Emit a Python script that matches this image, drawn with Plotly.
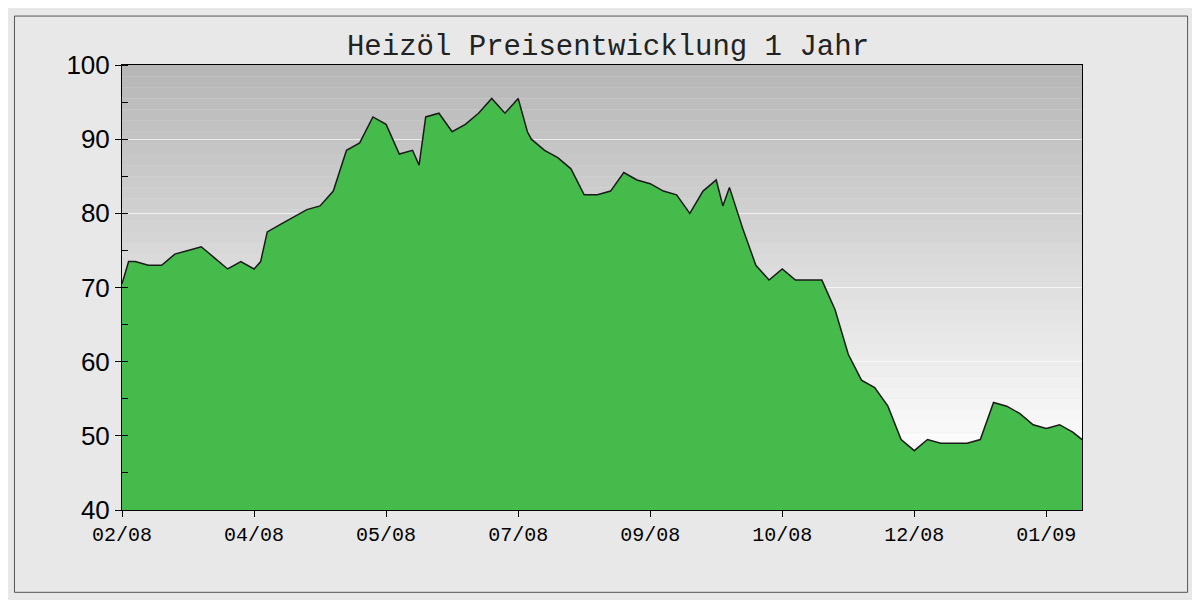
import plotly.graph_objects as go
import numpy as np

# x position in tick units (one unit = distance between two date labels)
pos = [0.0, 0.05, 0.1, 0.2, 0.3, 0.4, 0.5, 0.6, 0.7, 0.8, 0.9, 1.0, 1.05, 1.1, 1.2, 1.3, 1.4, 1.5,
       1.6, 1.7, 1.8, 1.9, 2.0, 2.1, 2.2, 2.25, 2.3, 2.4, 2.5, 2.6, 2.7, 2.8, 2.9, 3.0, 3.07,
       3.1, 3.2, 3.3, 3.4, 3.5, 3.6, 3.7, 3.8, 3.9, 4.0, 4.1, 4.2, 4.3, 4.4, 4.5, 4.55, 4.6,
       4.7, 4.8, 4.9, 5.0, 5.1, 5.2, 5.3, 5.4, 5.5, 5.6, 5.7, 5.8, 5.9, 6.0, 6.1, 6.2, 6.3,
       6.4, 6.5, 6.6, 6.7, 6.8, 6.9, 7.0, 7.1, 7.2, 7.27]
preis = [70.5, 73.5, 73.5, 73, 73, 74.5, 75, 75.5, 74, 72.5, 73.5, 72.5, 73.5, 77.5, 78.5, 79.5,
         80.5, 81, 83, 88.5, 89.5, 93, 92, 88, 88.5, 86.5, 93, 93.5, 91, 92, 93.5, 95.5, 93.5,
         95.5, 91, 90, 88.5, 87.5, 86, 82.5, 82.5, 83, 85.5, 84.5, 84, 83, 82.5, 80, 83, 84.5,
         81, 83.5, 78, 73, 71, 72.5, 71, 71, 71, 67, 61, 57.5, 56.5, 54, 49.5, 48, 49.5, 49,
         49, 49, 49.5, 54.5, 54, 53, 51.5, 51, 51.5, 50.5, 49.5]

tick_pos = [0, 1, 2, 3, 4, 5, 6, 7]
tick_text = ["02/08", "04/08", "05/08", "07/08", "09/08", "10/08", "12/08", "01/09"]

fig = go.Figure()

# grauer Verlauf im Hintergrund
shapes = []
n = 40
for i in range(n):
    y0 = 40 + 60 * i / n
    y1 = 40 + 60 * (i + 1) / n
    t = (y0 - 40) / 60
    if t < 0.15:
        g = 240 + int(t / 0.15 * 10)
    else:
        g = 250 - int((t - 0.15) / 0.85 * 70)
    shapes.append(dict(type="rect", xref="x", yref="y", x0=0, x1=7.27, y0=y0, y1=y1,
                       fillcolor=f"rgb({g},{g},{g})", line_width=0, layer="below"))
shapes.append(dict(type="rect", xref="paper", yref="paper", x0=-0.112, x1=1.11, y0=-0.185, y1=1.11,
                   line=dict(color="#555", width=1), layer="below"))

fig.add_trace(go.Scatter(x=pos, y=preis, mode="lines", fill="tozeroy",
                         line=dict(color="#1a1a1a", width=1.5), fillcolor="#45bb4c"))

fig.update_layout(
    width=1200, height=600, margin=dict(l=114, r=126, t=57, b=98),
    paper_bgcolor="#e8e8e8", plot_bgcolor="#e0e0e0", showlegend=False, shapes=shapes,
    title=dict(text="Heizöl Preisentwicklung 1 Jahr", x=0.5, y=0.955,
               font=dict(family="Liberation Mono", size=29, color="#222")),
    xaxis=dict(range=[0, 7.27], tickvals=tick_pos, ticktext=tick_text, ticks="outside",
               ticklen=6, tickcolor="#000", showgrid=False, zeroline=False,
               showline=True, linecolor="#000", mirror=True,
               tickfont=dict(family="Liberation Mono", size=20, color="#000")),
    yaxis=dict(range=[40, 100], dtick=10, ticks="outside", ticklen=6, tickcolor="#000",
               gridcolor="rgba(255,255,255,0.7)", zeroline=False,
               showline=True, linecolor="#000", mirror=True,
               minor=dict(dtick=5, ticks="inside", ticklen=6, tickcolor="#000", showgrid=False),
               tickfont=dict(family="Liberation Sans", size=26, color="#000")),
)
fig.write_html("out.html")
